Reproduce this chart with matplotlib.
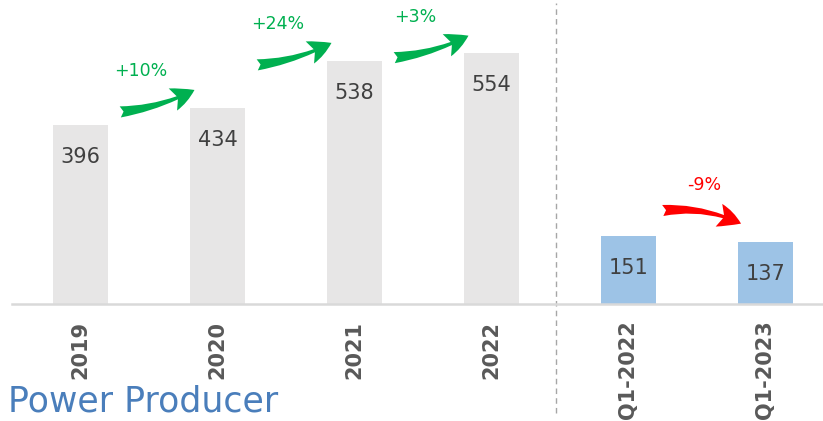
import matplotlib.pyplot as plt
from matplotlib.patches import FancyArrowPatch

# data
categories = ['2019', '2020', '2021', '2022', 'Q1-2022', 'Q1-2023']
values = [396, 434, 538, 554, 151, 137]
growth = ['+10%', '+24%', '+3%', '', '-9%']
title = 'Power Producer'

bar_colors = ['#e7e6e6'] * 4 + ['#9dc3e6'] * 2

fig = plt.figure(figsize=(8.23, 4.21), dpi=100)
ax = fig.add_axes([12 / 823, 117 / 421, 1 - 12 / 823, 304 / 421])

x = list(range(len(categories)))
ax.bar(x, values, width=0.4, color=bar_colors, zorder=2)
ax.set_xlim(-0.5, 5.42)
ax.set_ylim(0, 672)

# value labels inside bars
for xi, v in zip(x, values):
    ax.annotate(str(v), (xi, v), xytext=(0, -23), textcoords='offset points',
                ha='center', va='center', fontsize=15, color='#404040')

# baseline
for s in ['top', 'right', 'left']:
    ax.spines[s].set_visible(False)
ax.spines['bottom'].set_color('#d9d9d9')
ax.spines['bottom'].set_linewidth(1.8)
ax.set_yticks([])
ax.set_xticks(x)
ax.set_xticklabels(categories, rotation=90, fontsize=15, fontweight='bold',
                   color='#595959', va='top')
ax.tick_params(axis='x', length=0, pad=12)

# divider between years and quarters
ax.plot([3.47, 3.47], [-0.36, 0.99], transform=ax.get_xaxis_transform(),
        ls=(0, (4, 3)), color='#a6a6a6', lw=1, clip_on=False)

# growth arrows
for i, g in enumerate(growth):
    if not g:
        continue
    v0, v1 = values[i], values[i + 1]
    if v1 >= v0:
        top = max(v0, v1)
        tail = (i + 0.27, top - 10)
        head = (i + 0.85, top + 42)
        col = '#00b050'
        rad = 0.1
        lab = (i + 0.44, head[1] + 38)
    else:
        tail = (i + 0.23, v0 + 55)
        head = (i + 0.84, v1 + 38)
        col = '#ff0000'
        rad = -0.15
        lab = (i + 0.55, tail[1] + 57)
    arr = FancyArrowPatch(tail, head, connectionstyle='arc3,rad=%s' % rad,
                          arrowstyle='fancy,head_length=17,head_width=17,tail_width=8',
                          color=col, lw=0, zorder=3)
    ax.add_patch(arr)
    ax.text(lab[0], lab[1], g, ha='center', va='center', fontsize=12.5, color=col)

fig.text(8 / 823, 2 / 421, title, ha='left', va='bottom',
         fontsize=25, color='#4a7ebb')
fig.savefig('out.png', dpi=100)
